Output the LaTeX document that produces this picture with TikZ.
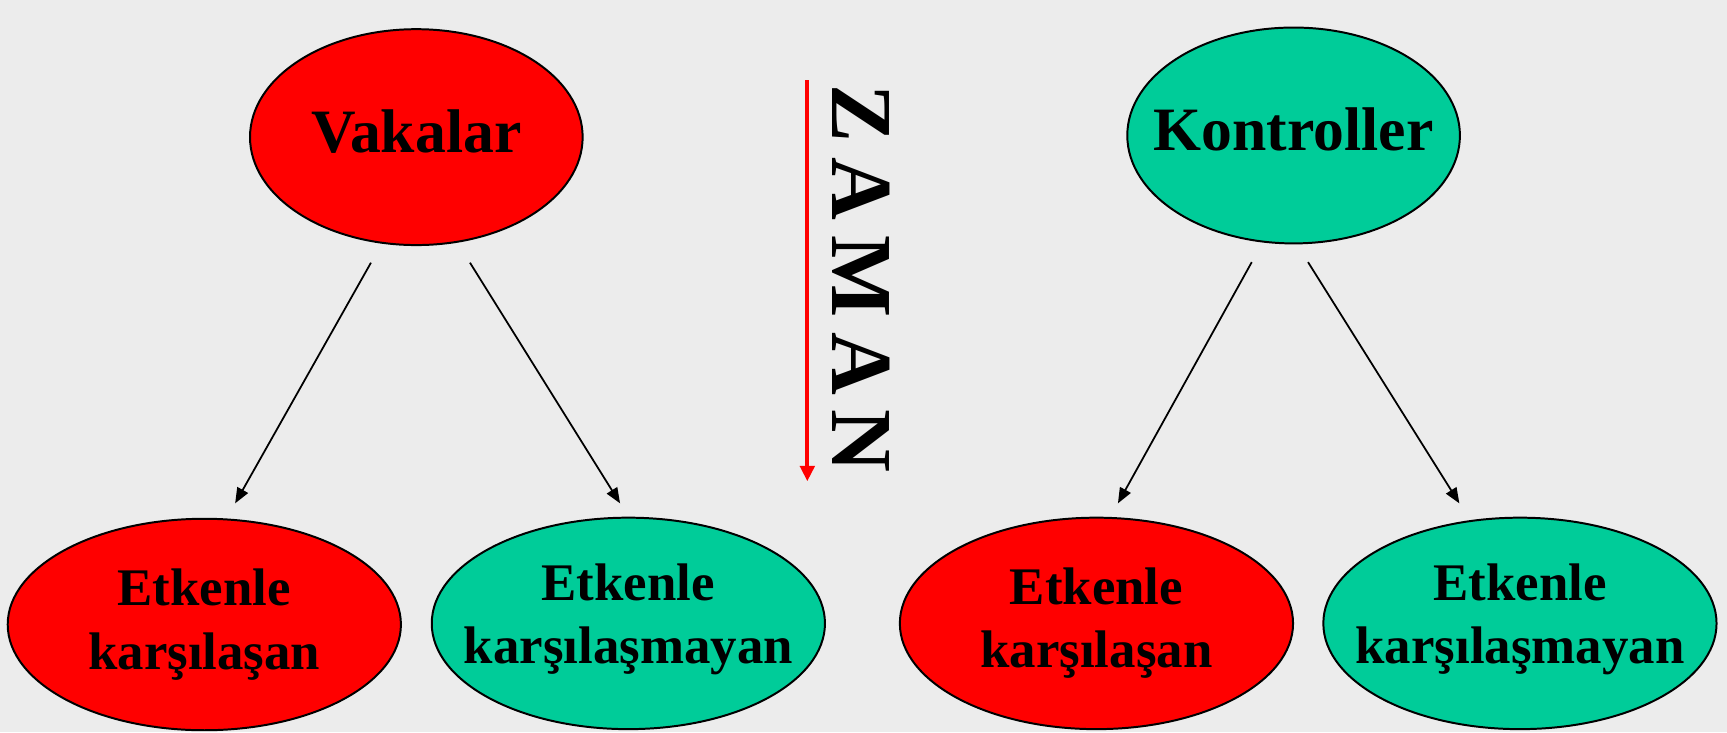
\documentclass[tikz,border=0pt]{standalone}
\usepackage{fontspec}
\setmainfont{Liberation Serif}
\usetikzlibrary{arrows.meta,shapes.geometric}
\definecolor{bgc}{RGB}{236,236,236}
\definecolor{redc}{RGB}{255,0,0}
\definecolor{tealc}{RGB}{0,204,153}
\tikzset{
  oval/.style={ellipse, draw=black, line width=1.8pt, inner xsep=-120pt, inner ysep=-80pt, font=\bfseries\fontsize{48}{57.5}\selectfont, align=center},
  topoval/.style={oval, minimum width=302pt, minimum height=196pt, font=\bfseries\fontsize{56}{66}\selectfont, text depth=11pt},
  botoval/.style={oval, minimum width=357pt, minimum height=192pt},
  conn/.style={line width=1.6pt, -{Triangle[length=14pt,width=11pt]}},
  timearrow/.style={draw=redc, line width=3.6pt, -{Triangle[length=14pt,width=13pt]}},
}
\begin{document}
\begin{tikzpicture}[x=1pt, y=-1pt]
\fill[bgc] (0,0) rectangle (1568,665);
\useasboundingbox (0,0) rectangle (1568,665);

\node[topoval, fill=redc] (vak) at (378,124.5) {Vakalar};
\node[topoval, fill=tealc] (kon) at (1174.5,123) {Kontroller};

\node[botoval, fill=redc, text depth=10pt] (e1) at (185.5,567) {Etkenle\\karşılaşan};
\node[botoval, fill=tealc, text depth=18pt] (e2) at (570.5,566) {Etkenle\\karşılaşmayan};
\node[botoval, fill=redc, text depth=10pt] (e3) at (995.5,566) {Etkenle\\karşılaşan};
\node[botoval, fill=tealc, text depth=18pt] (e4) at (1380,566) {Etkenle\\karşılaşmayan};

\coordinate (s1) at (336.8,238.5);
\coordinate (t1) at (213.5,457);
\coordinate (s2) at (426.7,238.5);
\coordinate (t2) at (563,457);
\coordinate (s3) at (1136.5,238);
\coordinate (t3) at (1015,457);
\coordinate (s4) at (1187.6,238);
\coordinate (t4) at (1325,457);
\draw[conn] (s1) -- (t1);
\draw[conn] (s2) -- (t2);
\draw[conn] (s3) -- (t3);
\draw[conn] (s4) -- (t4);

\coordinate (zs) at (733,73);
\coordinate (ze) at (733,437);
\draw[timearrow] (zs) -- (ze);
\node[inner sep=0pt, font=\bfseries\fontsize{79}{90}\selectfont] (zaman) at (782,253) {\rotatebox{-90}{Z\hspace{0.17em}A\hspace{0.17em}M\hspace{0.17em}A\hspace{0.17em}N}};
\end{tikzpicture}
\end{document}
